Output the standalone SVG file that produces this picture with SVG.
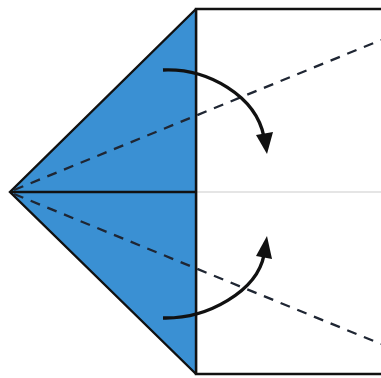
<svg xmlns="http://www.w3.org/2000/svg" width="381" height="378" viewBox="0 0 381 378">
  <style>
    .edge{fill:none;stroke:#111;stroke-width:2.4;stroke-linejoin:miter}
    .crease{fill:none;stroke:#1f2633;stroke-width:2.3;stroke-dasharray:10 8}
    .arrow{fill:none;stroke:#111;stroke-width:3.4;stroke-linecap:butt}
    .head{fill:#111}
  </style>
  <rect width="381" height="378" fill="#fff"/>
  <g id="paper">
    <line x1="196" y1="192" x2="381" y2="192" stroke="#dcdcdc" stroke-width="1.5"/>
    <polyline class="edge" points="381,9 196,9 196,374 381,374"/>
  </g>
  <g id="flap">
    <polygon points="10,192 196,9 196,374" fill="#3a90d3"/>
    <polyline class="edge" points="196,9 10,192 196,374"/>
    <line class="edge" x1="10" y1="192" x2="196" y2="192"/>
    <line class="edge" x1="196" y1="9" x2="196" y2="374"/>
  </g>
  <g id="creases">
    <line class="crease" x1="14" y1="190" x2="381" y2="40"/>
    <line class="crease" x1="14" y1="194" x2="381" y2="344"/>
  </g>
  <g id="connectors">
    <path class="arrow" d="M163,70 C208,68 256,96 264,137"/>
    <polygon class="head" points="256,135 273,132 267,154"/>
    <path class="arrow" d="M163,318 C208,319 257,291 264,255"/>
    <polygon class="head" points="256,256 272,259 267,236"/>
  </g>
</svg>
